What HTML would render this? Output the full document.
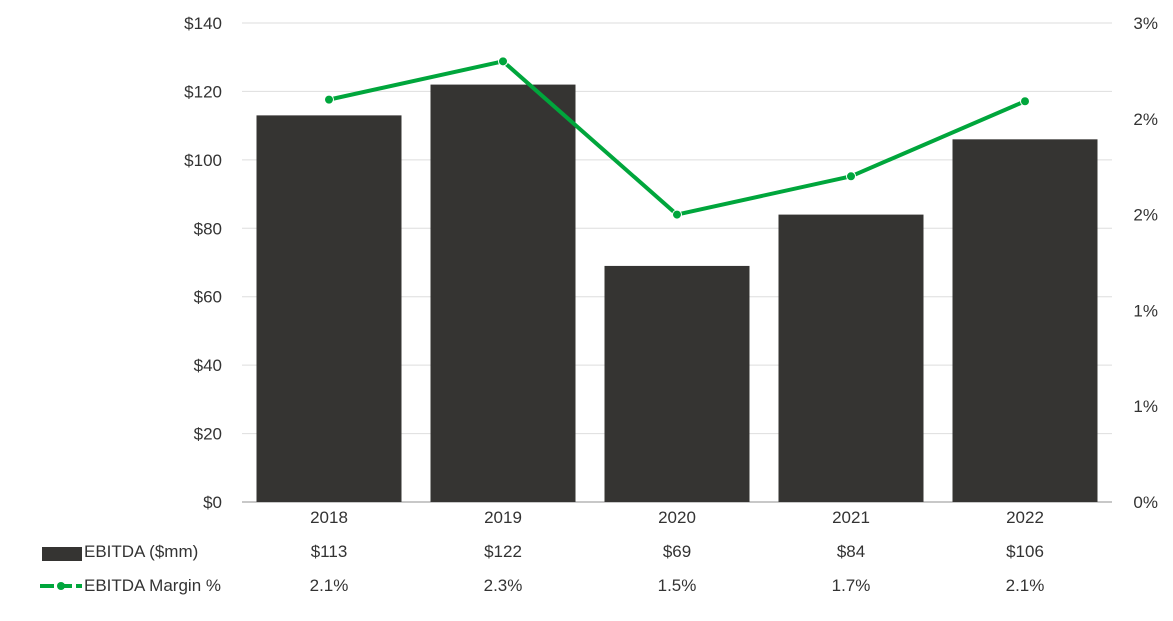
<!DOCTYPE html>
<html><head><meta charset="utf-8"><style>
body{margin:0;background:#fff;}
svg text{font-family:"Liberation Sans",sans-serif;fill:#333;font-size:17px;}
</style></head><body>
<svg id="chart" width="1173" height="616" xmlns="http://www.w3.org/2000/svg">
<g id="grid"></g><g id="bars"></g><g id="line"></g><g id="labels"></g>
<g>
<rect x="42" y="547" width="40" height="14" fill="#353432"/>
<line x1="40" y1="586" x2="82" y2="586" stroke="#00a63c" stroke-width="4" stroke-dasharray="14,4" />
<circle cx="61" cy="586" r="4" fill="#00a63c"/>
<text x="84" y="557">EBITDA ($mm)</text>
<text x="84" y="591">EBITDA Margin %</text>
</g>
</svg>
<script>
const years=["2018","2019","2020","2021","2022"];
const ebitda=[113,122,69,84,106];
const margin=[2.52,2.76,1.80,2.04,2.51];
const ebitdaLabels=["$113","$122","$69","$84","$106"];
const marginLabels=["2.1%","2.3%","1.5%","1.7%","2.1%"];
const leftTicks=[0,20,40,60,80,100,120,140];
const rightTicks=[0,0.6,1.2,1.8,2.4,3.0];
const rightTickLabels=["0%","1%","1%","2%","2%","3%"];
const NS="http://www.w3.org/2000/svg";
const L=242,R=1112,T=23,B=502;
const band=(R-L)/years.length;
const yL=v=>B-(v/140)*(B-T);
const yR=v=>B-(v/3)*(B-T);
const xC=i=>L+band*(i+0.5);
function mk(tag,attrs,parent,txt){const e=document.createElementNS(NS,tag);for(const k in attrs)e.setAttribute(k,attrs[k]);if(txt!==undefined)e.textContent=txt;document.getElementById(parent).appendChild(e);return e;}
leftTicks.forEach(v=>{
 const g=mk('line',{x1:L,x2:R,y1:yL(v),y2:yL(v),stroke:v===0?'#c8c8c8':'#dedede','stroke-width':v===0?2:1},'grid');
 
 
 const t=mk('text',{x:222,y:yL(v)+6,'text-anchor':'end'},'labels','$'+v);
 
 
});
rightTicks.forEach((v,i)=>{
 const t=mk('text',{x:1158,y:yR(v)+6,'text-anchor':'end'},'labels',rightTickLabels[i]);
 
 
});
const bw=145;
years.forEach((y,i)=>{
 const b=mk('rect',{x:xC(i)-bw/2,y:yL(ebitda[i]),width:bw,height:B-yL(ebitda[i]),fill:'#353432'},'bars');
 
 
 const t1=mk('text',{x:xC(i),y:523,'text-anchor':'middle'},'labels',y);
 
 
 const t2=mk('text',{x:xC(i),y:557,'text-anchor':'middle'},'labels',ebitdaLabels[i]);
 
 
 const t3=mk('text',{x:xC(i),y:591,'text-anchor':'middle'},'labels',marginLabels[i]);
 
 
});
const pts=margin.map((m,i)=>xC(i)+','+yR(m)).join(' ');
const pl=mk('polyline',{points:pts,fill:'none',stroke:'#00a63c','stroke-width':4,'stroke-linejoin':'round'},'line');


margin.forEach((m,i)=>{
 const c=mk('circle',{cx:xC(i),cy:yR(m),r:4.5,fill:'#00a63c',stroke:'#fff','stroke-width':1},'line');
 
 
});
</script>
</body></html>
